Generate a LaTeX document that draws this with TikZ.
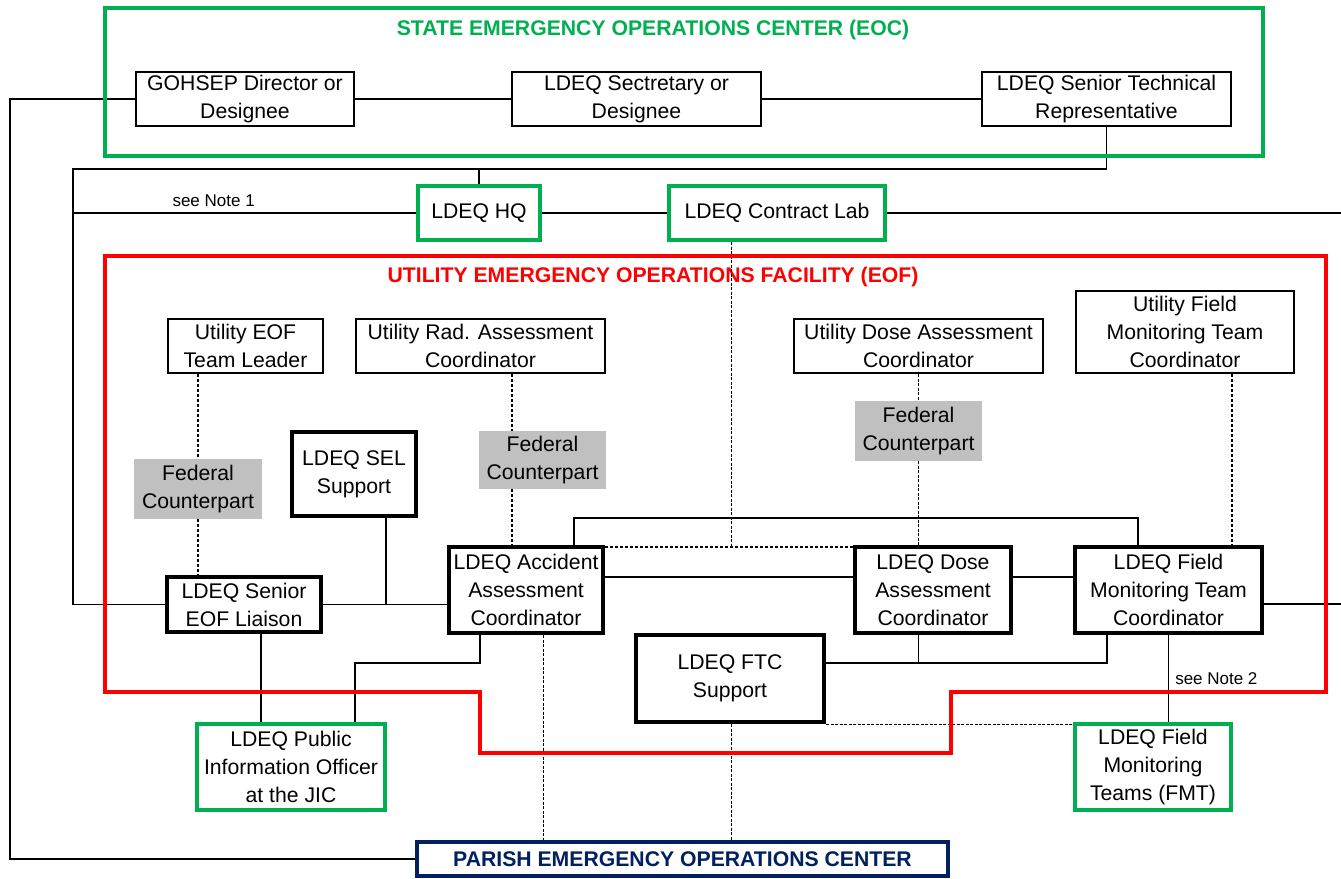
\documentclass[tikz,border=0pt]{standalone}
\usepackage{fontspec}
\setmainfont{Liberation Sans}
\usetikzlibrary{positioning}
\definecolor{eocgreen}{RGB}{0,176,80}
\definecolor{eofred}{RGB}{255,0,0}
\definecolor{parishblue}{RGB}{0,32,96}
\definecolor{fedgray}{RGB}{192,192,192}
\newcommand{\boxfont}{\fontsize{10.6pt}{14pt}\selectfont}
\newcommand{\notefont}{\fontsize{8.5pt}{10pt}\selectfont}
\tikzstyle{utilbox} = [rectangle, draw=black, line width=1pt, inner sep=0pt, align=center, font=\boxfont]
\tikzstyle{ldeqbox} = [rectangle, draw=black, line width=2pt, inner sep=0pt, align=center, font=\boxfont]
\tikzstyle{outbox} = [rectangle, draw=eocgreen, line width=2pt, inner sep=0pt, align=center, font=\boxfont]
\tikzstyle{fedbox} = [rectangle, fill=fedgray, inner sep=0pt, align=center, font=\boxfont]
\tikzstyle{areatitle} = [inner sep=0pt, font=\boxfont\bfseries]
\tikzstyle{notetext} = [inner sep=0pt, font=\notefont]
\tikzstyle{link} = [line width=0.75pt]
\tikzstyle{dotlink} = [line width=1pt, dash pattern=on 1.5pt off 1pt]
\tikzstyle{faintlink} = [line width=0.4pt, dash pattern=on 1.5pt off 0.75pt]
\begin{document}
\begin{tikzpicture}[x=0.5pt, y=-0.5pt, node distance=0pt]
\useasboundingbox (0,0) rectangle (1341,879);

% State EOC
\node (Gohsep) [utilbox, minimum width=109pt, minimum height=27pt] at (245,99) {GOHSEP Director or\\Designee};
\node (Secretary) [utilbox, right of=Gohsep, xshift=195.75pt, minimum width=124.5pt, minimum height=27pt] {LDEQ Sectretary or\\Designee};
\node (Tech) [utilbox, right of=Secretary, xshift=235pt, minimum width=124.5pt, minimum height=27pt] {LDEQ Senior Technical\\Representative};
\node (EOCtitle) [areatitle, text=eocgreen, above of=Secretary, xshift=8.25pt, yshift=34.5pt] {STATE EMERGENCY OPERATIONS CENTER (EOC)};

% HQ and lab
\node (HQ) [outbox, below of=Gohsep, xshift=117pt, yshift=-57pt, minimum width=61pt, minimum height=27pt] {LDEQ HQ};
\node (Lab) [outbox, right of=HQ, xshift=149pt, minimum width=108pt, minimum height=27pt] {LDEQ Contract Lab};
\node (EOFtitle) [areatitle, text=eofred, below of=Lab, xshift=-62pt, yshift=-32pt] {UTILITY EMERGENCY OPERATIONS FACILITY (EOF)};

% Utility side
\node (UtilTL) [utilbox, below of=Gohsep, xshift=0.25pt, yshift=-123.5pt, minimum width=77.5pt, minimum height=27pt] {Utility EOF\\Team Leader};
\node (UtilRad) [utilbox, right of=UtilTL, xshift=117.5pt, minimum width=124.5pt, minimum height=27pt] {Utility Rad. Assessment\\Coordinator};
\node (UtilDose) [utilbox, right of=UtilRad, xshift=219pt, minimum width=124.5pt, minimum height=27pt] {Utility Dose Assessment\\Coordinator};
\node (UtilFMT) [utilbox, right of=UtilDose, xshift=133.25pt, yshift=7pt, minimum width=109pt, minimum height=41pt] {Utility Field\\Monitoring Team\\Coordinator};

% Federal counterparts
\node (FC1) [fedbox, below of=UtilTL, xshift=-23.75pt, yshift=-71.5pt, minimum width=64pt, minimum height=30pt] {Federal\\Counterpart};
\node (FC2) [fedbox, below of=UtilRad, xshift=31pt, yshift=-57pt, minimum width=63.5pt, minimum height=29pt] {Federal\\Counterpart};
\node (FC3) [fedbox, below of=UtilDose, yshift=-42.5pt, minimum width=63.5pt, minimum height=30pt] {Federal\\Counterpart};

% LDEQ side
\node (SEL) [ldeqbox, right of=FC1, xshift=78pt, yshift=7.5pt, minimum width=62pt, minimum height=42pt] {LDEQ SEL\\Support};
\node (Liaison) [ldeqbox, below of=FC1, xshift=23pt, yshift=-57.75pt, minimum width=77pt, minimum height=27.5pt] {LDEQ Senior\\EOF Liaison};
\node (Accident) [ldeqbox, right of=Liaison, xshift=141pt, yshift=7.25pt, minimum width=77pt, minimum height=43pt] {LDEQ Accident\\Assessment\\Coordinator};
\node (Dose) [ldeqbox, right of=Accident, xshift=203.5pt, minimum width=78pt, minimum height=43pt] {LDEQ Dose\\Assessment\\Coordinator};
\node (FMTC) [ldeqbox, right of=Dose, xshift=117.75pt, minimum width=93.5pt, minimum height=43pt] {LDEQ Field\\Monitoring Team\\Coordinator};
\node (FTC) [ldeqbox, below of=Accident, xshift=102pt, yshift=-44.25pt, minimum width=94pt, minimum height=43.5pt] {LDEQ FTC\\Support};

% Outside the EOF
\node (PIO) [outbox, below of=Liaison, xshift=23.5pt, yshift=-81.25pt, minimum width=94pt, minimum height=43pt] {LDEQ Public\\Information Officer\\at the JIC};
\node (FMT) [outbox, below of=FMTC, xshift=-7.75pt, yshift=-88.5pt, minimum width=78pt, minimum height=43pt] {LDEQ Field\\Monitoring\\Teams (FMT)};
\node (Parish) [outbox, draw=parishblue, text=parishblue, font=\boxfont\bfseries, below of=FTC, xshift=-23.75pt, yshift=-90.25pt, minimum width=265.5pt, minimum height=17pt] {PARISH EMERGENCY OPERATIONS CENTER};

% Bus points
\coordinate (westbus) at (10,99);
\coordinate (hqbus) at (73,169);
\coordinate (rimE) at (1341,0);
\coordinate (labdrop) at (731,547);
\coordinate (radline) at (512,0);
\coordinate (fmtline) at (1232,0);
\coordinate (selline) at (386,0);
\coordinate (jicline) at (261,0);
\coordinate (accdash) at (543,0);
\coordinate (topbusW) at (574,518);
\coordinate (topbusE) at (1138,518);
\coordinate (piobusE) at (480,663);
\coordinate (piobusW) at (355,663);
\coordinate (ftcbus) at (1107,663);

% Solid connectors
\draw [link] (Gohsep.west) -- (westbus) |- (Parish.west);
\draw [link] (Gohsep) -- (Secretary);
\draw [link] (Secretary) -- (Tech);
\draw [link] (Tech.south) |- (hqbus) |- (Liaison.west);
\draw [link] (HQ.north) -- (HQ.north |- hqbus);
\draw [link] (hqbus |- HQ.west) -- node [notetext, pos=0.41, above=3pt] {see Note 1} (HQ.west);
\draw [link] (HQ) -- (Lab);
\draw [link] (Lab.east) -- (Lab.east -| rimE);
\draw [link] (Liaison.east) -- (Liaison.east -| Accident.west);
\draw [link] (SEL.south -| selline) -- (Liaison.east -| selline);
\draw [link] (Accident.north -| topbusW) |- (topbusE) -- (topbusE |- FMTC.north);
\draw [link] ([yshift=6.5pt]Accident.east) -- ([yshift=6.5pt]Dose.west);
\draw [link] ([yshift=6.5pt]Dose.east) -- ([yshift=6.5pt]FMTC.west);
\draw [link] ([yshift=-7pt]FMTC.east) -- ([yshift=-7pt]FMTC.east -| rimE);
\draw [link] (Liaison.south -| jicline) -- (PIO.north -| jicline);
\draw [link] (Accident.south -| piobusE) -- (piobusE) -- (piobusW) -- (PIO.north -| piobusW);
\draw [link] (FTC.east |- ftcbus) -- (ftcbus) -- (ftcbus |- FMTC.south);
\draw [link] (Dose.south -| FC3) -- (ftcbus -| FC3);
\draw [link] (FMTC.south) -- node [notetext, right=3pt, pos=0.5] {see Note 2} (FMTC.south |- FMT.north);

% Dotted connectors
\draw [dotlink] (UtilTL.south -| FC1) -- (FC1.north);
\draw [dotlink] (FC1.south) -- (FC1.south |- Liaison.north);
\draw [dotlink] (UtilRad.south -| radline) -- (FC2.north -| radline);
\draw [dotlink] (FC2.south -| radline) -- (Accident.north -| radline);
\draw [dotlink] (UtilFMT.south -| fmtline) -- (FMTC.north -| fmtline);
\draw [dotlink] ([yshift=-1pt]Accident.north east) -- ([yshift=-1pt]Dose.north west);
\draw [faintlink] (UtilDose) -- (FC3);
\draw [faintlink] (FC3.south) -- (FC3.south |- Dose.north);
\draw [faintlink] (Lab.south -| labdrop) -- (labdrop);
\draw [faintlink] (Accident.south -| accdash) -- (Parish.north -| accdash);
\draw [faintlink] (FTC.south -| labdrop) -- (Parish.north -| labdrop);
\draw [faintlink] (FTC.south east) -- (FTC.south east -| FMT.west);

% Area frames
\draw [eocgreen, line width=2pt] (104.5,8) rectangle (1263,156);
\draw [eofred, line width=2pt] (104.5,255.5) -- (1326,255.5) -- (1326,692) -- (951,692) -- (951,753) -- (480,753) -- (480,692) -- (104.5,692) -- cycle;

\end{tikzpicture}
\end{document}
